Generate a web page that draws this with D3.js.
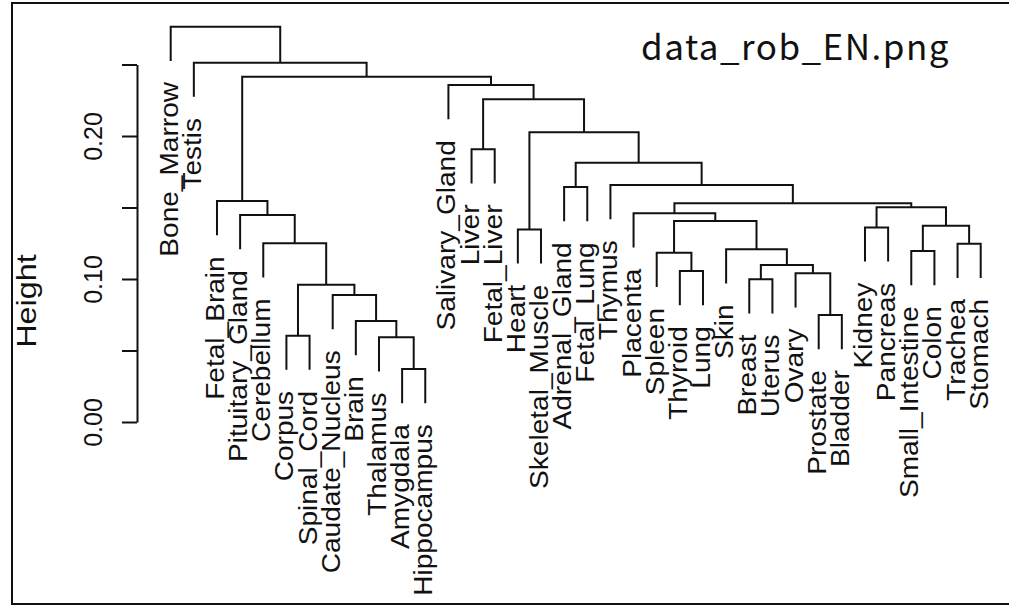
<!DOCTYPE html>
<html>
<head>
<meta charset="utf-8">
<script src="https://cdn.jsdelivr.net/npm/d3@7"></script>
<style>
  html, body { margin: 0; padding: 0; background: #fff; }
  svg { display: block; }
  text { font-family: "Liberation Sans", Arial, sans-serif; fill: #111; }
</style>
</head>
<body>
<svg id="chart" width="1009" height="606"></svg>
<script>
// Leaf labels in display order (left to right)
const labels = [
  "Bone_Marrow", "Testis", "Fetal_Brain", "Pituitary_Gland", "Cerebellum",
  "Corpus", "Spinal_Cord", "Caudate_Nucleus", "Brain", "Thalamus",
  "Amygdala", "Hippocampus", "Salivary_Gland", "Liver", "Fetal_Liver",
  "Heart", "Skeletal_Muscle", "Adrenal_Gland", "Fetal_Lung", "Thymus",
  "Placenta", "Spleen", "Thyroid", "Lung", "Skin",
  "Breast", "Uterus", "Ovary", "Prostate", "Bladder",
  "Kidney", "Pancreas", "Small_Intestine", "Colon", "Trachea", "Stomach"
];

// hclust-style merge table: negative = leaf (1-based position in labels),
// positive = earlier merge row (1-based)
const mergeLeft  = [-11, -6, -10, -9, -8, 2, -5, -4, -3, -14, -16, -18, -23, -22, -26, -29, -28, 15, -25, 14, -21, -31, -33, -35, 23, 22, 21, -20, 12, 11, 10, -13, 9, -2, -1];
const mergeRight = [-12, -7, 1, 3, 4, 5, 6, 7, 8, -15, -17, -19, -24, 13, -27, -30, 16, 17, 18, 19, 20, -32, -34, -36, 24, 25, 26, 27, 28, 29, 30, 31, 32, 33, 34];
const mergeHeight = [
  0.0371, 0.0604, 0.0592, 0.0706, 0.0888, 0.0960, 0.1250, 0.1448, 0.1545,
  0.1907, 0.1347, 0.1643, 0.1056, 0.1184, 0.0998, 0.0748, 0.1040, 0.1098,
  0.1208, 0.1406, 0.1459, 0.1361, 0.1196, 0.1247, 0.1373, 0.1501, 0.1529,
  0.1657, 0.1813, 0.2026, 0.2257, 0.2357, 0.2415, 0.2513, 0.2764
];

// Axis ticks and the labels shown on them
const tickValues = [0, 0.05, 0.10, 0.15, 0.20, 0.25];
const tickLabels = ["0.00", "", "0.10", "", "0.20", ""];
const yTitle = "Height";
const fileTitle = "data_rob_EN.png";
const hang = 0.1;

const svg = d3.select("#chart");

// outer frame
svg.append("rect")
  .attr("x", 12).attr("y", 3)
  .attr("width", 1010).attr("height", 601)
  .attr("fill", "none").attr("stroke", "#111").attr("stroke-width", 2);

const x = d3.scaleLinear().domain([1, labels.length]).range([170.7, 980.7]);
const y = d3.scaleLinear().domain([0, 0.25]).range([422, 64.5]);

const hangDist = hang * (d3.max(mergeHeight) - d3.min(mergeHeight));

// horizontal position of each merge node (mean of its two children)
const nodeX = [];
function posOf(ref) { return ref < 0 ? -ref : nodeX[ref - 1]; }
mergeLeft.forEach((l, i) => {
  nodeX[i] = (posOf(l) + posOf(mergeRight[i])) / 2;
});

// bottom end of a child branch under a parent at height h
function childBottom(ref, h) {
  return ref < 0 ? h - hangDist : mergeHeight[ref - 1];
}

const g = svg.append("g");
const leafEnds = [];
mergeLeft.forEach((l, i) => {
  const r = mergeRight[i];
  const h = mergeHeight[i];
  const path = d3.path();
  path.moveTo(x(posOf(l)), y(childBottom(l, h)));
  path.lineTo(x(posOf(l)), y(h));
  path.lineTo(x(posOf(r)), y(h));
  path.lineTo(x(posOf(r)), y(childBottom(r, h)));
  g.append("path")
    .attr("d", path.toString())
    .attr("fill", "none")
    .attr("stroke", "#111")
    .attr("stroke-width", 2);
  [l, r].forEach(c => { if (c < 0) leafEnds[-c - 1] = h - hangDist; });
});

// leaf labels, reading upward, ending just below each leaf
g.selectAll("text.leaf")
  .data(labels)
  .join("text")
  .attr("class", "leaf")
  .attr("font-size", 26)
  .attr("text-anchor", "end")
  .attr("transform", (d, i) => `translate(${x(i + 1) + 7},${y(leafEnds[i]) + 21}) rotate(-90) scale(1.08,1)`)
  .text(d => d);

// y axis
const axis = d3.axisLeft(y)
  .tickValues(tickValues)
  .tickSize(15)
  .tickSizeOuter(0)
  .tickFormat((d, i) => tickLabels[i]);

const ax = svg.append("g")
  .attr("transform", "translate(137,0)")
  .call(axis);
ax.select(".domain").attr("stroke", "#111").attr("stroke-width", 2);
ax.selectAll(".tick line").attr("stroke", "#111").attr("stroke-width", 2);
ax.selectAll(".tick text")
  .attr("x", null).attr("dy", null).attr("y", null)
  .attr("font-size", 25)
  .attr("font-family", "Liberation Sans, Arial, sans-serif")
  .attr("fill", "#111")
  .attr("text-anchor", "middle")
  .attr("transform", "translate(-35,0) rotate(-90)");

// axis title
svg.append("text")
  .attr("font-size", 27)
  .attr("text-anchor", "middle")
  .attr("transform", "translate(36,301) rotate(-90) scale(1.2,1)")
  .text(yTitle);

// file name caption
svg.append("text")
  .attr("x", 641).attr("y", 60)
  .attr("font-size", 35)
  .attr("letter-spacing", 1.5)
  .style("font-family", "'Noto Sans CJK JP', 'Noto Sans', sans-serif")
  .attr("fill", "#000")
  .text(fileTitle);
</script>
</body>
</html>
